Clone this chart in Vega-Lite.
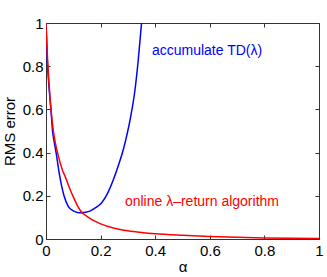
{
  "$schema": "https://vega.github.io/schema/vega-lite/v6.json",
  "width": 273,
  "height": 216,
  "autosize": {"type": "none"},
  "padding": {"left": 46, "top": 23, "right": 8, "bottom": 38},
  "background": "white",
  "config": {
    "view": {"stroke": "#333333", "strokeWidth": 1},
    "font": "Liberation Sans",
    "axis": {
      "domain": false,
      "grid": false,
      "tickSize": -4,
      "tickColor": "#333333",
      "tickWidth": 1,
      "labelFont": "Liberation Sans",
      "labelFontSize": 15,
      "labelColor": "#000000",
      "titleFont": "Liberation Sans",
      "titleFontSize": 15,
      "titleFontWeight": "normal",
      "titleColor": "#000000"
    }
  },
  "datasets": {
    "td": [
      {"alpha": 0, "rmse": 1},
      {"alpha": 0.005, "rmse": 0.82},
      {"alpha": 0.01, "rmse": 0.72},
      {"alpha": 0.018, "rmse": 0.6},
      {"alpha": 0.024, "rmse": 0.5},
      {"alpha": 0.03, "rmse": 0.45},
      {"alpha": 0.037, "rmse": 0.4},
      {"alpha": 0.049, "rmse": 0.3},
      {"alpha": 0.066, "rmse": 0.2},
      {"alpha": 0.082, "rmse": 0.15},
      {"alpha": 0.1, "rmse": 0.13},
      {"alpha": 0.115, "rmse": 0.123},
      {"alpha": 0.13, "rmse": 0.122},
      {"alpha": 0.145, "rmse": 0.124},
      {"alpha": 0.161, "rmse": 0.129},
      {"alpha": 0.182, "rmse": 0.145},
      {"alpha": 0.204, "rmse": 0.168},
      {"alpha": 0.225, "rmse": 0.21},
      {"alpha": 0.247, "rmse": 0.275},
      {"alpha": 0.265, "rmse": 0.34},
      {"alpha": 0.283, "rmse": 0.413},
      {"alpha": 0.296, "rmse": 0.48},
      {"alpha": 0.308, "rmse": 0.552},
      {"alpha": 0.326, "rmse": 0.691},
      {"alpha": 0.338, "rmse": 0.83},
      {"alpha": 0.35, "rmse": 1}
    ],
    "online": [
      {"alpha": 0, "rmse": 1},
      {"alpha": 0.005, "rmse": 0.85},
      {"alpha": 0.01, "rmse": 0.74},
      {"alpha": 0.015, "rmse": 0.65},
      {"alpha": 0.02, "rmse": 0.58},
      {"alpha": 0.027, "rmse": 0.5},
      {"alpha": 0.035, "rmse": 0.44},
      {"alpha": 0.046, "rmse": 0.38},
      {"alpha": 0.06, "rmse": 0.32},
      {"alpha": 0.07, "rmse": 0.29},
      {"alpha": 0.085, "rmse": 0.24},
      {"alpha": 0.1, "rmse": 0.195},
      {"alpha": 0.115, "rmse": 0.155},
      {"alpha": 0.13, "rmse": 0.125},
      {"alpha": 0.15, "rmse": 0.105},
      {"alpha": 0.175, "rmse": 0.085},
      {"alpha": 0.2, "rmse": 0.07},
      {"alpha": 0.25, "rmse": 0.05},
      {"alpha": 0.3, "rmse": 0.038},
      {"alpha": 0.35, "rmse": 0.03},
      {"alpha": 0.4, "rmse": 0.024},
      {"alpha": 0.5, "rmse": 0.017},
      {"alpha": 0.6, "rmse": 0.012},
      {"alpha": 0.7, "rmse": 0.008},
      {"alpha": 0.8, "rmse": 0.005},
      {"alpha": 0.9, "rmse": 0.003},
      {"alpha": 1, "rmse": 0.002}
    ],
    "labels": [
      {"alpha": 0.388, "rmse": 0.872, "label": "accumulate TD(λ)", "series": "td"},
      {"alpha": 0.289, "rmse": 0.173, "label": "online λ–return algorithm", "series": "online"}
    ]
  },
  "layer": [
    {
      "data": {"name": "td"},
      "mark": {"type": "line", "interpolate": "monotone", "color": "#0000ff", "strokeWidth": 1.5, "clip": true},
      "encoding": {
        "x": {"field": "alpha", "type": "quantitative", "scale": {"domain": [0, 1], "nice": false},
              "axis": {"orient": "bottom", "values": [0, 0.2, 0.4, 0.6, 0.8, 1], "format": "~g", "labelPadding": 8, "title": "α", "titlePadding": 1, "labelFlush": false}},
        "y": {"field": "rmse", "type": "quantitative", "scale": {"domain": [0, 1], "nice": false},
              "axis": {"orient": "left", "values": [0, 0.2, 0.4, 0.6, 0.8, 1], "format": "~g", "labelPadding": 7, "title": "RMS error", "titlePadding": 5, "labelFlush": false}}
      }
    },
    {
      "data": {"name": "online"},
      "mark": {"type": "line", "interpolate": "monotone", "color": "#ff0000", "strokeWidth": 1.5, "clip": true},
      "encoding": {
        "x": {"field": "alpha", "type": "quantitative", "scale": {"domain": [0, 1], "nice": false},
              "axis": {"orient": "top", "values": [0, 0.2, 0.4, 0.6, 0.8, 1], "labels": false, "title": null}},
        "y": {"field": "rmse", "type": "quantitative", "scale": {"domain": [0, 1], "nice": false},
              "axis": {"orient": "right", "values": [0, 0.2, 0.4, 0.6, 0.8, 1], "labels": false, "title": null}}
      }
    },
    {
      "data": {"name": "labels"},
      "mark": {"type": "text", "align": "left", "baseline": "middle", "font": "Liberation Sans", "fontSize": 14},
      "encoding": {
        "x": {"field": "alpha", "type": "quantitative", "axis": null},
        "y": {"field": "rmse", "type": "quantitative", "axis": null},
        "text": {"field": "label"},
        "color": {"field": "series", "type": "nominal", "scale": {"domain": ["td", "online"], "range": ["#0000ff", "#ff0000"]}, "legend": null}
      }
    }
  ],
  "resolve": {"axis": {"x": "independent", "y": "independent"}}
}
